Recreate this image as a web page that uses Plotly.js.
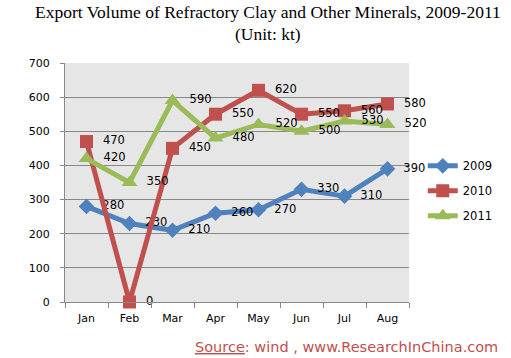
<!DOCTYPE html>
<html><head><meta charset="utf-8">
<script src="https://cdn.plot.ly/plotly-3.0.1.min.js"></script>
<style>body{margin:0;background:#fff}#c{width:511px;height:358px}</style>
</head><body><div id="c"></div>
<script>
const months = ["Jan","Feb","Mar","Apr","May","Jun","Jul","Aug"];
const v2009 = [280,230,210,260,270,330,310,390];
const v2010 = [470,0,450,550,620,550,560,580];
const v2011 = [420,350,590,480,520,500,530,520];
const yTicks = [0,100,200,300,400,500,600,700];

function tr(name, y, color, sym, size){
  return {x: months, y: y, name: name, legendgroup: name, type:'scatter', mode:'lines+markers+text',
    line:{color:color, width:5}, marker:{symbol:sym, size:size, color:color},
    text: y.map(v => '  ' + v), textposition:'middle right',
    textfont:{family:'DejaVu Sans, Verdana', size:11.5, color:'#000'}, cliponaxis:false};
}
const data = [
  tr('2009', v2009, '#4F81BD', 'diamond', 12),
  tr('2010', v2010, '#C0504D', 'square', 13),
  tr('2011', v2011, '#9BBB59', 'triangle-up', 14)
];
const layout = {
  width:511, height:358,
  margin:{l:65, r:102, t:63, b:56},
  paper_bgcolor:'#fff', plot_bgcolor:'#E6E6E6',
  font:{family:'DejaVu Sans, Verdana', size:11, color:'#000'},
  xaxis:{type:'category', range:[-0.5,7.5], tickson:'boundaries', ticks:'outside', ticklen:5,
    tickcolor:'#888', showgrid:false, showline:true, linecolor:'#888', zeroline:false,
    tickfont:{size:11}, ticklabelstandoff:6},
  yaxis:{range:[0,700], tickvals:yTicks, showgrid:true, gridcolor:'#888', gridwidth:1,
    showline:true, linecolor:'#888', ticks:'outside', ticklen:4, tickcolor:'#888', zeroline:false,
    tickfont:{size:11}, ticklabelstandoff:8},
  showlegend:true,
  legend:{x:1.04, xanchor:'left', y:0.465, yanchor:'middle', bgcolor:'rgba(0,0,0,0)',
    font:{size:11.5}, tracegroupgap:6, itemwidth:30},
  annotations:[
    {xref:'paper', yref:'paper', x:0.59, y:1.214, xanchor:'center', yanchor:'middle', showarrow:false,
     text:'Export Volume of Refractory Clay and Other Minerals, 2009-2011',
     font:{family:'Liberation Serif, Times New Roman', size:17.5, color:'#000'}},
    {xref:'paper', yref:'paper', x:0.59, y:1.122, xanchor:'center', yanchor:'middle', showarrow:false,
     text:'(Unit: kt)',
     font:{family:'Liberation Serif, Times New Roman', size:17.5, color:'#000'}},
    {xref:'paper', yref:'paper', x:1.265, y:-0.19, xanchor:'right', yanchor:'middle',
    showarrow:false, text:'<span style="text-decoration:underline">Source</span>: wind , www.ResearchInChina.com',
    font:{family:'DejaVu Sans, Verdana', size:14.5, color:'#C0504D'}}]
};
Plotly.newPlot('c', data, layout, {displayModeBar:false});
</script></body></html>
